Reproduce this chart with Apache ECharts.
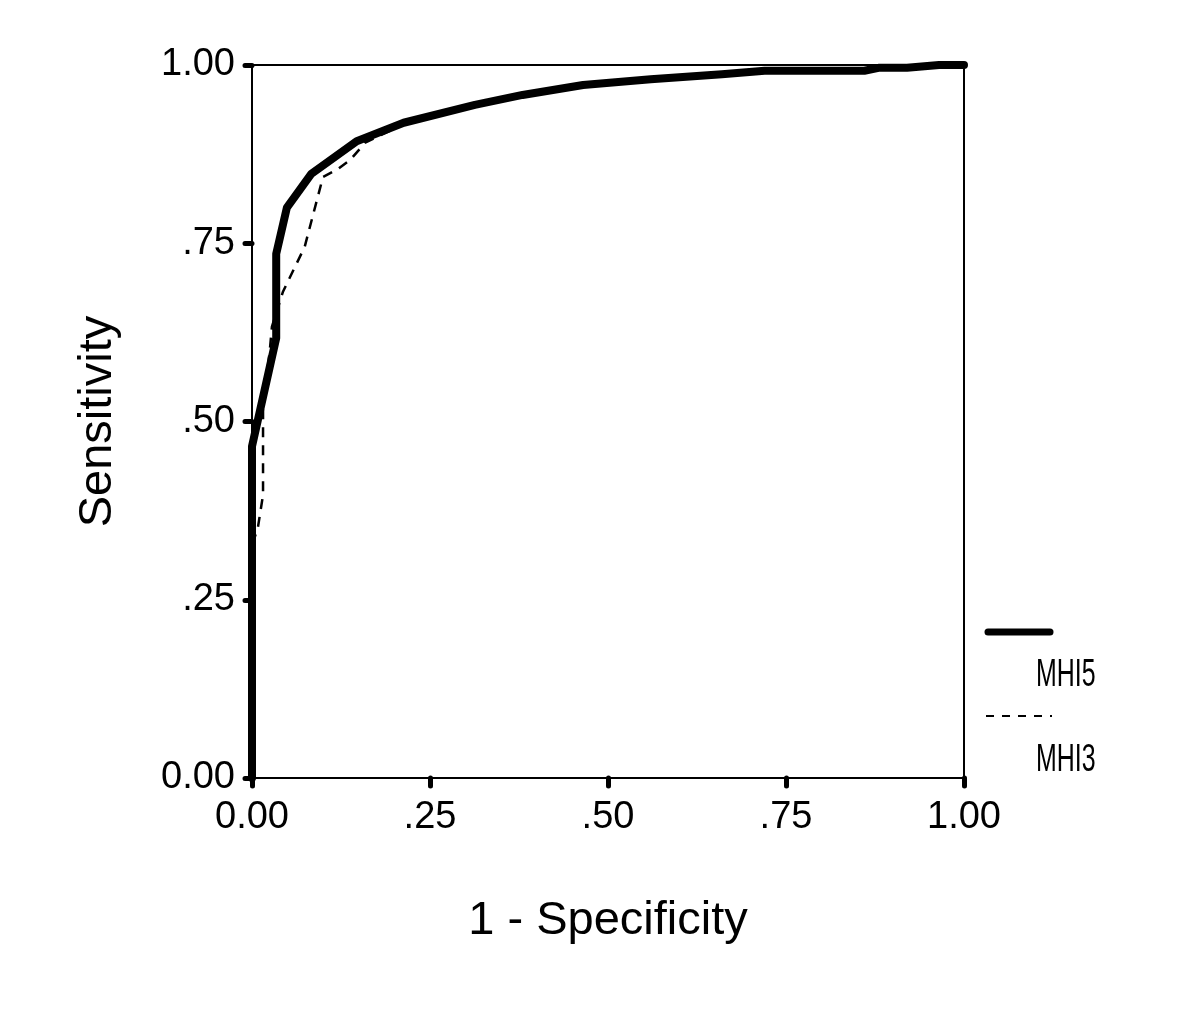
<!DOCTYPE html>
<html>
<head>
<meta charset="utf-8">
<script src="https://cdn.jsdelivr.net/npm/echarts@6/dist/echarts.min.js"></script>
<style>
html,body{margin:0;padding:0;background:#fff;}
#chart{width:1200px;height:1015px;}
</style>
</head>
<body>
<div id="chart"></div>
<script>
// ROC curve data: [1 - Specificity, Sensitivity]
var mhi5 = [[0,0],[0,0.465],[0.034,0.617],[0.034,0.735],[0.049,0.80],[0.083,0.847],[0.147,0.893],[0.213,0.919],[0.313,0.944],[0.38,0.958],[0.465,0.972],[0.56,0.980],[0.66,0.987],[0.72,0.992],[0.86,0.992],[0.88,0.996],[0.92,0.996],[0.965,1.0],[1,1]];
var mhi3 = [[0,0],[0.0014,0.33],[0.0084,0.352],[0.0155,0.397],[0.0155,0.52],[0.025,0.60],[0.028,0.633],[0.0435,0.682],[0.074,0.745],[0.0997,0.843],[0.119,0.853],[0.138,0.867],[0.159,0.891],[0.213,0.917],[0.236,0.922],[0.313,0.944],[0.38,0.958],[0.465,0.972],[0.56,0.980],[0.66,0.987],[0.72,0.992],[0.86,0.992],[0.88,0.996],[0.92,0.996],[0.965,1.0],[1,1]];
var xTickLabels = ['0.00', '.25', '.50', '.75', '1.00'];
var yTickLabels = ['0.00', '.25', '.50', '.75', '1.00'];
var seriesNames = ['MHI5', 'MHI3'];
var xTitle = '1 - Specificity';
var yTitle = 'Sensitivity';

var FONT = 'Liberation Sans, Arial, Helvetica, sans-serif';
function tickFmt(labels){
  return function(v){ return labels[Math.round(v / 0.25)]; };
}
var chart = echarts.init(document.getElementById('chart'), null, {renderer:'canvas'});
var option = {
  backgroundColor: '#fff',
  animation: false,
  grid: {left: 252, right: 236, top: 65, bottom: 237, show: true, borderColor: '#000', borderWidth: 2, backgroundColor: 'transparent'},
  xAxis: {
    type: 'value', min: 0, max: 1, interval: 0.25,
    name: xTitle, nameLocation: 'middle', nameGap: 120,
    nameTextStyle: {fontFamily: FONT, fontSize: 47, color: '#000'},
    axisLine: {show: true, lineStyle: {color: '#000', width: 2}},
    axisTick: {show: true, length: 8, lineStyle: {color: '#000', width: 5, cap: 'round'}},
    axisLabel: {fontFamily: FONT, fontSize: 38, color: '#000', margin: 21, formatter: tickFmt(xTickLabels)},
    splitLine: {show: false}
  },
  yAxis: {
    type: 'value', min: 0, max: 1, interval: 0.25,
    name: yTitle, nameLocation: 'middle', nameGap: 130,
    nameTextStyle: {fontFamily: FONT, fontSize: 47, color: '#000'},
    axisLine: {show: true, lineStyle: {color: '#000', width: 2}},
    axisTick: {show: true, length: 7, lineStyle: {color: '#000', width: 5, cap: 'round'}},
    axisLabel: {fontFamily: FONT, fontSize: 38, color: '#000', margin: 17, formatter: tickFmt(yTickLabels)},
    splitLine: {show: false}
  },
  series: [
    {
      name: seriesNames[1], type: 'line', data: mhi3, showSymbol: false, clip: false, z: 2,
      lineStyle: {color: '#000', width: 2.5, type: [10, 8]}
    },
    {
      name: seriesNames[0], type: 'line', data: mhi5, showSymbol: false, clip: false, z: 3,
      lineStyle: {color: '#000', width: 8, cap: 'round', join: 'round'}
    }
  ],
  graphic: [
    {type: 'line', shape: {x1: 988, y1: 632, x2: 1050, y2: 632}, style: {stroke: '#000', lineWidth: 7, lineCap: 'round'}},
    {type: 'text', x: 1036, y: 675, scaleX: 0.64, style: {x: 0, y: 0, text: seriesNames[0], font: '39px ' + FONT, fill: '#000', textVerticalAlign: 'middle', textAlign: 'left'}},
    {type: 'line', shape: {x1: 986, y1: 716, x2: 1052, y2: 716}, style: {stroke: '#000', lineWidth: 2, lineDash: [8, 8]}},
    {type: 'text', x: 1036, y: 760, scaleX: 0.64, style: {x: 0, y: 0, text: seriesNames[1], font: '39px ' + FONT, fill: '#000', textVerticalAlign: 'middle', textAlign: 'left'}}
  ]
};
chart.setOption(option);
</script>
</body>
</html>
